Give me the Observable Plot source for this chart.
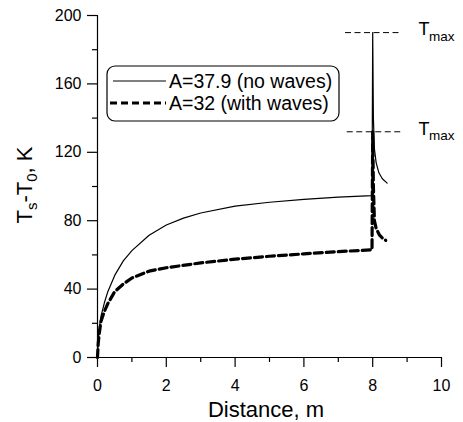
<!DOCTYPE html>
<html>
<head>
<meta charset="utf-8">
<script src="https://cdn.jsdelivr.net/npm/d3@7"></script>
<script src="https://cdn.jsdelivr.net/npm/@observablehq/plot@0.6"></script>
<style>
  html, body { margin: 0; padding: 0; background: white; }
  svg { display: block; }
</style>
</head>
<body>
<div id="chart"></div>
<script>
// ---- data ----
const xNoWaves = [0, 0.02, 0.05, 0.1, 0.2, 0.3, 0.5, 0.75, 1, 1.5, 2, 2.5, 3, 4, 5, 6, 7, 7.98, 8.0, 8.02, 8.05, 8.1, 8.18, 8.28, 8.42];
const yNoWaves = [0, 10, 17, 24, 32, 38.5, 48, 56.5, 62.5, 71.5, 77.5, 81.5, 84.5, 88.5, 90.8, 92.5, 93.8, 94.7, 190, 140, 122, 114, 108, 104.5, 102];

const xWaves = [0, 0.02, 0.05, 0.1, 0.2, 0.3, 0.5, 0.75, 1, 1.5, 2, 3, 4, 5, 6, 7, 7.98, 8.0, 8.02, 8.05, 8.1, 8.2, 8.3, 8.38];
const yWaves = [0, 8, 14, 21, 27, 31.5, 38.5, 43, 46.5, 50.5, 52.5, 55.3, 57.5, 59.2, 60.6, 61.9, 63, 132, 100, 80, 75.5, 71.5, 69.5, 68.5];

const seriesNames = ["A=37.9 (no waves)", "A=32 (with waves)"];

const tmaxValues = [190, 132];
const tmaxX1 = [7.21, 7.26];
const tmaxX2 = [8.81, 8.9];
const tmaxLabelX = 9.33;

const xMajorTicks = [0, 2, 4, 6, 8, 10];
const xMinorTicks = [1, 3, 5, 7, 9];
const yMajorTicks = [0, 40, 80, 120, 160, 200];
const yMinorTicks = [20, 60, 100, 140, 180];

const xTitle = "Distance, m";

// ---- tables built from the arrays ----
const noWaves = xNoWaves.map((x, i) => ({x, y: yNoWaves[i]}));
const waves = xWaves.map((x, i) => ({x, y: yWaves[i]}));
const tmaxRows = tmaxValues.map((v, i) => ({y: v, x1: tmaxX1[i], x2: tmaxX2[i], lx: tmaxLabelX}));

const FONT = "'Liberation Sans', Arial, Helvetica, sans-serif";

const chart = Plot.plot({
  width: 463,
  height: 422,
  marginLeft: 97,
  marginRight: 22,
  marginTop: 15,
  marginBottom: 65,
  style: {fontFamily: FONT, fontSize: "16px", color: "black", background: "white"},
  x: {domain: [0, 10]},
  y: {domain: [0, 200]},
  marks: [
    Plot.axisX({ticks: xMajorTicks, tickSize: 10, tickPadding: 12, label: null, tickFormat: d => String(d), strokeWidth: 1.2}),
    Plot.axisX({ticks: xMinorTicks, tickSize: 5, tickFormat: () => "", label: null, strokeWidth: 1.2}),
    Plot.axisY({ticks: yMajorTicks, tickSize: 10, tickPadding: 6, label: null, tickFormat: d => String(d), strokeWidth: 1.2}),
    Plot.axisY({ticks: yMinorTicks, tickSize: 5, tickFormat: () => "", label: null, strokeWidth: 1.2}),
    Plot.ruleX([0], {stroke: "black", strokeWidth: 1.2}),
    Plot.ruleY([0], {stroke: "black", strokeWidth: 1.2}),
    Plot.ruleY(tmaxRows, {y: "y", x1: "x1", x2: "x2", stroke: "black", strokeWidth: 1, strokeDasharray: "6,3.5"}),
    Plot.text(tmaxRows, {x: "lx", y: "y", text: () => "T", textAnchor: "start", fontSize: 18, dy: -3}),
    Plot.text(tmaxRows, {x: "lx", y: "y", text: () => "max", textAnchor: "start", fontSize: 13.5, dx: 10.5, dy: 4}),
    Plot.line(noWaves, {x: "x", y: "y", stroke: "black", strokeWidth: 1.2}),
    Plot.line(waves, {x: "x", y: "y", stroke: "black", strokeWidth: 3.2, strokeDasharray: "8,4"})
  ]
});

document.getElementById("chart").appendChild(chart);

const svg = d3.select(chart);

// x title
svg.append("text")
  .attr("x", 266).attr("y", 417)
  .attr("text-anchor", "middle")
  .attr("font-family", FONT).attr("font-size", 22).attr("fill", "black")
  .text(xTitle);

// y title with subscripts
const yt = svg.append("text")
  .attr("transform", "translate(32,185) rotate(-90)")
  .attr("text-anchor", "middle")
  .attr("font-family", FONT).attr("font-size", 22).attr("fill", "black");
yt.append("tspan").text("T");
yt.append("tspan").attr("font-size", 15).attr("dy", 5).text("s");
yt.append("tspan").attr("dy", -5).text("-T");
yt.append("tspan").attr("font-size", 15).attr("dy", 5).text("0");
yt.append("tspan").attr("dy", -5).text(", K");

// legend box inside the plot
const lg = svg.append("g").attr("text-anchor", "start");
lg.append("rect")
  .attr("x", 107).attr("y", 66).attr("width", 232).attr("height", 55)
  .attr("rx", 8).attr("ry", 8)
  .attr("fill", "white").attr("stroke", "black").attr("stroke-width", 1.2);
const legendY = [81, 103];
const legendStyle = [{w: 1.2, dash: null}, {w: 3.2, dash: "7,4"}];
seriesNames.forEach((name, i) => {
  lg.append("line")
    .attr("x1", i === 0 ? 113 : 110).attr("x2", 166)
    .attr("y1", legendY[i]).attr("y2", legendY[i])
    .attr("stroke", "black").attr("stroke-width", legendStyle[i].w)
    .attr("stroke-dasharray", legendStyle[i].dash);
  lg.append("text")
    .attr("x", 169).attr("y", legendY[i]).attr("dy", "0.35em")
    .attr("text-anchor", "start")
    .attr("font-family", FONT).attr("font-size", 19.5).attr("fill", "black")
    .text(name);
});
</script>
</body>
</html>
